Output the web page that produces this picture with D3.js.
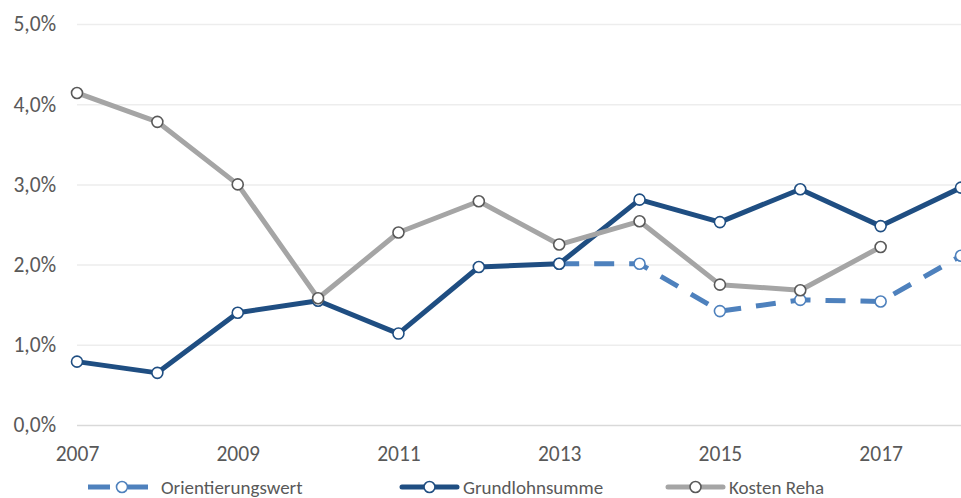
<!DOCTYPE html>
<html><head><meta charset="utf-8">
<script src="https://cdn.jsdelivr.net/npm/d3@7"></script>
<style>
html,body{margin:0;padding:0;background:#fff;overflow:hidden}
svg{display:block}
text{font-family:Carlito,Lato,"Open Sans",sans-serif;fill:#595959}
</style></head>
<body>
<svg id="c" width="961" height="498"></svg>
<script>
const years = [2007,2008,2009,2010,2011,2012,2013,2014,2015,2016,2017,2018];
const orientierungswert = [null,null,null,null,null,null,2.01,2.01,1.42,1.56,1.54,2.11];
const grundlohnsumme = [0.79,0.65,1.40,1.55,1.14,1.97,2.01,2.81,2.53,2.94,2.48,2.96];
const kostenReha = [4.14,3.78,3.00,1.58,2.40,2.79,2.25,2.54,1.75,1.68,2.22,null];
const seriesNames = ["Orientierungswert","Grundlohnsumme","Kosten Reha"];
const yTicks = [0,1,2,3,4,5];
const xTicks = [2007,2009,2011,2013,2015,2017];

const svg = d3.select("#c");
const x = d3.scaleLinear().domain([2007,2018]).range([77,961]);
const y = d3.scaleLinear().domain([0,5]).range([425,24]);
const loc = d3.formatLocale({decimal:",",thousands:".",grouping:[3],currency:["","€"]});
const fmt = v => loc.format(".1f")(v) + "%";

// gridlines + y labels
const ya = svg.append("g").attr("transform","translate(77,0)")
  .call(d3.axisLeft(y).tickValues(yTicks).tickFormat(fmt).tickSize(-(961-77)).tickPadding(21));
ya.select(".domain").remove();
ya.selectAll(".tick line").attr("stroke", d => d===0 ? "#D9D9D9" : "#EDEDED").attr("stroke-width",1.5);
ya.selectAll(".tick text").style("font-size","21.5px").attr("fill","#595959").attr("font-family",null);

// x labels
const xa = svg.append("g").attr("transform","translate(0,425)")
  .call(d3.axisBottom(x).tickValues(xTicks).tickFormat(d3.format("d")).tickSize(0).tickPadding(21));
xa.select(".domain").remove();
xa.selectAll(".tick text").style("font-size","21.5px").attr("fill","#595959").attr("font-family",null);

const series = [
  {name:seriesNames[0], vals:orientierungswert, color:"#4E81BD", stroke:"#4E81BD", dash:"20,15"},
  {name:seriesNames[1], vals:grundlohnsumme, color:"#1F4E82", stroke:"#1F4E82", dash:null},
  {name:seriesNames[2], vals:kostenReha, color:"#A5A5A5", stroke:"#595959", dash:null}
];

const line = d3.line().defined(d => d.v != null).x(d => x(d.yr)).y(d => y(d.v));
series.forEach(s => {
  const pts = years.map((yr,i) => ({yr, v:s.vals[i]}));
  svg.append("path").datum(pts).attr("d", line).attr("fill","none")
    .attr("stroke", s.color).attr("stroke-width",5).attr("stroke-linejoin","round")
    .attr("stroke-dasharray", s.dash);
  svg.append("g").selectAll("circle").data(pts.filter(d => d.v != null)).join("circle")
    .attr("cx", d => x(d.yr)).attr("cy", d => y(d.v)).attr("r",5.5)
    .attr("fill","#fff").attr("stroke", s.stroke).attr("stroke-width",1.6);
});

// legend
const legend = [
  {s:series[0], x0:88, x1:148, tx:161},
  {s:series[1], x0:402, x1:457, tx:463},
  {s:series[2], x0:668, x1:723, tx:729}
];
const ly = 487;
legend.forEach(l => {
  const g = svg.append("g");
  if (l.s.dash) {
    g.append("line").attr("x1",l.x0).attr("x2",l.x0+22).attr("y1",ly).attr("y2",ly)
      .attr("stroke",l.s.color).attr("stroke-width",5);
    g.append("line").attr("x1",l.x1-20).attr("x2",l.x1).attr("y1",ly).attr("y2",ly)
      .attr("stroke",l.s.color).attr("stroke-width",5);
  } else {
    g.append("line").attr("x1",l.x0).attr("x2",l.x1).attr("y1",ly).attr("y2",ly)
      .attr("stroke",l.s.color).attr("stroke-width",5).attr("stroke-linecap","round");
  }
  g.append("circle").attr("cx",(l.x0+l.x1)/2 + (l.s.dash?4:0)).attr("cy",ly).attr("r",5.5)
    .attr("fill","#fff").attr("stroke",l.s.stroke).attr("stroke-width",1.6);
  g.append("text").attr("x",l.tx).attr("y",ly).attr("dy","0.35em")
    .style("font-size","19px").text(l.s.name);
});
</script>
</body></html>
